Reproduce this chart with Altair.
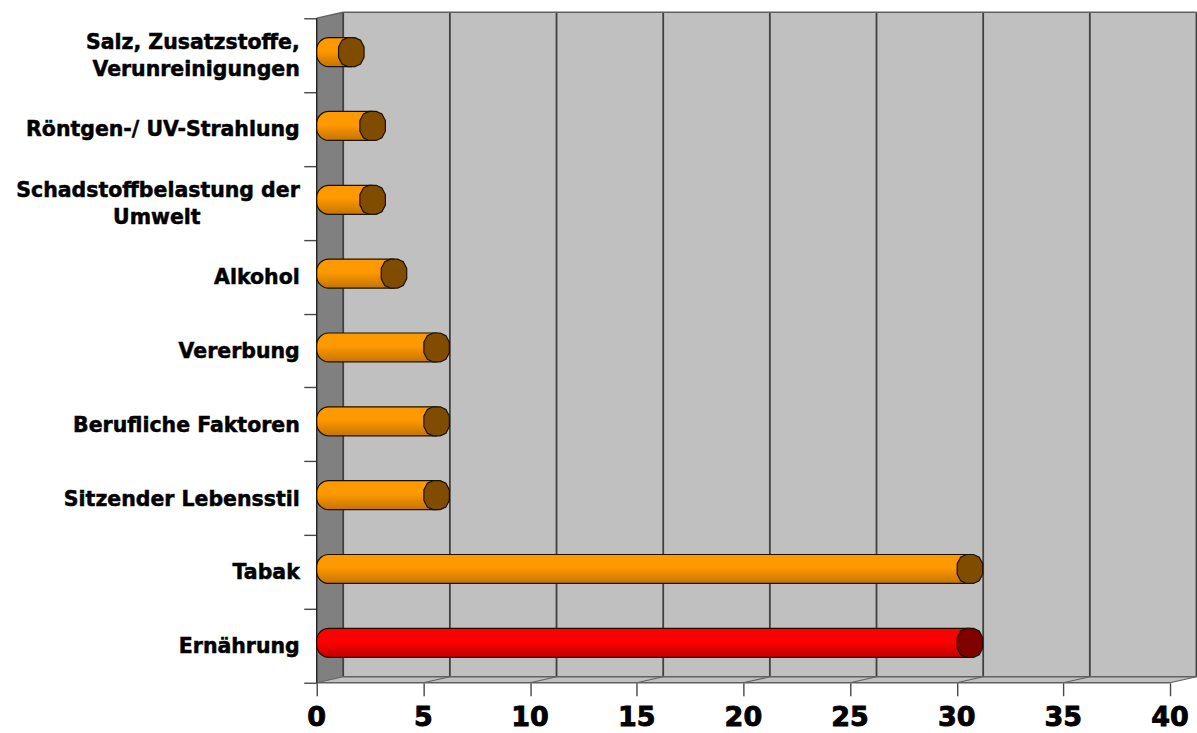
import altair as alt
import pandas as pd

# Risk factors, listed from the bottom of the chart upward
categories = [
    "Ernährung", "Tabak", "Sitzender Lebensstil", "Berufliche Faktoren", "Vererbung",
    "Alkohol", "Schadstoffbelastung der Umwelt", "Röntgen-/ UV-Strahlung",
    "Salz, Zusatzstoffe, Verunreinigungen",
]
shares = [30, 30, 5, 5, 5, 3, 2, 2, 1]
label_lines = {
    "Salz, Zusatzstoffe, Verunreinigungen": ["Salz, Zusatzstoffe,", "Verunreinigungen"],
    "Schadstoffbelastung der Umwelt": ["Schadstoffbelastung der", "Umwelt"],
}
x_ticks = [0, 5, 10, 15, 20, 25, 30, 35, 40]

# Pixel sizes of the plot and the pseudo-3D projection
PX_PER_UNIT_X = 21.35
PX_PER_BAND = 73.9
WIDTH = 881
HEIGHT = 671
DX = 26.5 / PX_PER_UNIT_X       # depth along the value axis
DY = 6 / PX_PER_BAND            # depth along the category axis
HALF_TUBE = 14.5 / PX_PER_BAND  # half of the tube thickness
N = len(categories)
X_MAX = WIDTH / PX_PER_UNIT_X
Y_MAX = HEIGHT / PX_PER_BAND

FONT = "DejaVu Sans"
LINE = "#404040"
TICK = "#484848"

x_scale = alt.Scale(domain=[0, X_MAX], nice=False, zero=False)
y_scale = alt.Scale(domain=[0, Y_MAX], nice=False, zero=False)
x_axis = alt.Axis(
    values=x_ticks, grid=False, domain=False, tickSize=13, tickColor=TICK, tickWidth=1.4,
    labels=False, title=None,
)
y_axis = alt.Axis(
    values=list(range(N + 1)), grid=False, domain=False, tickSize=13, tickColor=TICK,
    tickWidth=1.4, labels=False, title=None,
)


def X(field):
    return alt.X(field, scale=x_scale, axis=x_axis)


def Y(field):
    return alt.Y(field, scale=y_scale, axis=y_axis)


back_wall = alt.Chart(pd.DataFrame([{"x": DX, "x2": 40 + DX, "y": DY, "y2": N + DY}])).mark_rect(
    fill="#c0c0c0"
).encode(x=X("x:Q"), x2="x2:Q", y=Y("y:Q"), y2="y2:Q")

side_wall = alt.Chart(pd.DataFrame([
    {"x": 0, "y": 0, "y2": N},
    {"x": DX, "y": DY, "y2": N + DY},
])).mark_area(fill="#808080", opacity=1).encode(x=X("x:Q"), y=Y("y:Q"), y2="y2:Q")

floor = alt.Chart(pd.DataFrame([
    {"y": 0, "x": 0, "x2": 40},
    {"y": DY, "x": DX, "x2": 40 + DX},
])).mark_area(fill="#c0c0c0", orient="horizontal", opacity=1).encode(
    y=Y("y:Q"), x=X("x:Q"), x2="x2:Q"
)

# Frame edges: grid on wall, grid on floor, wall borders, front axis lines
edges = []
for v in x_ticks:
    edges.append({"x": v + DX, "x2": v + DX, "y": DY, "y2": N + DY, "c": LINE, "w": 1.8})
    edges.append({"x": v, "x2": v + DX, "y": 0, "y2": DY, "c": "#606060", "w": 1.2})
edges += [
    {"x": DX, "x2": 40 + DX, "y": N + DY, "y2": N + DY, "c": "#606060", "w": 1.6},
    {"x": DX, "x2": 40 + DX, "y": DY, "y2": DY, "c": "#606060", "w": 1.6},
    {"x": 0, "x2": DX, "y": N, "y2": N + DY, "c": "#606060", "w": 1.4},
    {"x": 0, "x2": 40, "y": 0, "y2": 0, "c": "#606060", "w": 1.4},
    {"x": 0, "x2": 0, "y": 0, "y2": N, "c": "#202020", "w": 1.4},
]
frame = alt.Chart(pd.DataFrame(edges)).mark_rule().encode(
    x=X("x:Q"), x2="x2:Q", y=Y("y:Q"), y2="y2:Q",
    color=alt.Color("c:N", scale=None),
    strokeWidth=alt.StrokeWidth("w:Q", scale=None),
)

# Low-polygon end cap of a tube, 26 x 29 px
CAP_PATH = ("M-0.25,-1 L0.25,-1 L0.64,-0.82 L0.88,-0.36 L0.88,0.36 L0.64,0.82 L0.25,1 "
            "L-0.25,1 L-0.64,0.82 L-0.88,0.36 L-0.88,-0.36 L-0.64,-0.82 Z")


def tube(rows, top, bottom, cap):
    df = pd.DataFrame(rows)
    body = alt.Chart(df).mark_rect(
        fill={
            "gradient": "linear", "x1": 0, "x2": 0, "y1": 0, "y2": 1,
            "stops": [
                {"offset": 0, "color": top},
                {"offset": 0.45, "color": top},
                {"offset": 1, "color": bottom},
            ],
        },
        stroke="#1a1000", strokeWidth=1.2,
        cornerRadiusTopLeft=12, cornerRadiusBottomLeft=12,
    ).encode(x=X("start:Q"), x2="end:Q", y=Y("low:Q"), y2="high:Q")
    end = alt.Chart(df).mark_point(
        shape=CAP_PATH, size=29 ** 2, fill=cap, filled=True, opacity=1,
        stroke="#1a1000", strokeWidth=1.2,
    ).encode(x=X("end:Q"), y=Y("mid:Q"))
    return body + end


rows = []
for i, (name, share) in enumerate(zip(categories, shares)):
    mid = i + 0.5 + DY / 2
    rows.append({"name": name, "start": 0, "end": share + DX / 2, "mid": mid,
                 "low": mid - HALF_TUBE, "high": mid + HALF_TUBE})

highlight = tube(rows[:1], "#ff0000", "#c20000", "#800000")
others = tube(rows[1:], "#ff9900", "#c47400", "#7f4c00")

# Category labels, with two-line labels set as centred blocks
LINE_GAP = 27 / PX_PER_BAND
LABEL_SHIFT = 1.5 / PX_PER_BAND
text_rows = []
for i, name in enumerate(categories):
    lines = label_lines.get(name, [name])
    for j, line in enumerate(lines):
        off = ((len(lines) - 1) / 2 - j) * LINE_GAP
        text_rows.append({"label": line, "y": i + 0.5 + off - LABEL_SHIFT})
text_df = pd.DataFrame(text_rows)
text_style = dict(font=FONT, fontWeight="bold", fontSize=20.5, color="black", stroke="black",
                  strokeWidth=0.5, baseline="middle", clip=False)
right_labels = alt.Chart(text_df[text_df.label != "Umwelt"]).mark_text(
    align="right", **text_style
).encode(x=alt.value(-17), y=Y("y:Q"), text="label:N")
centred_labels = alt.Chart(text_df[text_df.label == "Umwelt"]).mark_text(
    align="center", **text_style
).encode(x=alt.value(-160), y=Y("y:Q"), text="label:N")

# Value labels under the front ticks, set heavy like the category labels
value_labels = alt.Chart(pd.DataFrame({"x": x_ticks})).mark_text(
    font=FONT, fontWeight="bold", fontSize=27, color="black", stroke="black", strokeWidth=0.9,
    align="center", baseline="alphabetic", clip=False,
).encode(x=X("x:Q"), y=alt.value(HEIGHT + 43.5), text=alt.Text("x:Q", format="d"))

chart = alt.layer(
    back_wall, side_wall, floor, frame, others, highlight, right_labels, centred_labels, value_labels,
).properties(
    width=WIDTH, height=HEIGHT,
    padding={"left": 317, "top": 12, "right": 0, "bottom": 50},
    autosize=alt.AutoSizeParams(type="none"),
    background="white",
).configure_view(stroke=None)

chart.save("out.html", embed_options={"renderer": "svg", "actions": False})
